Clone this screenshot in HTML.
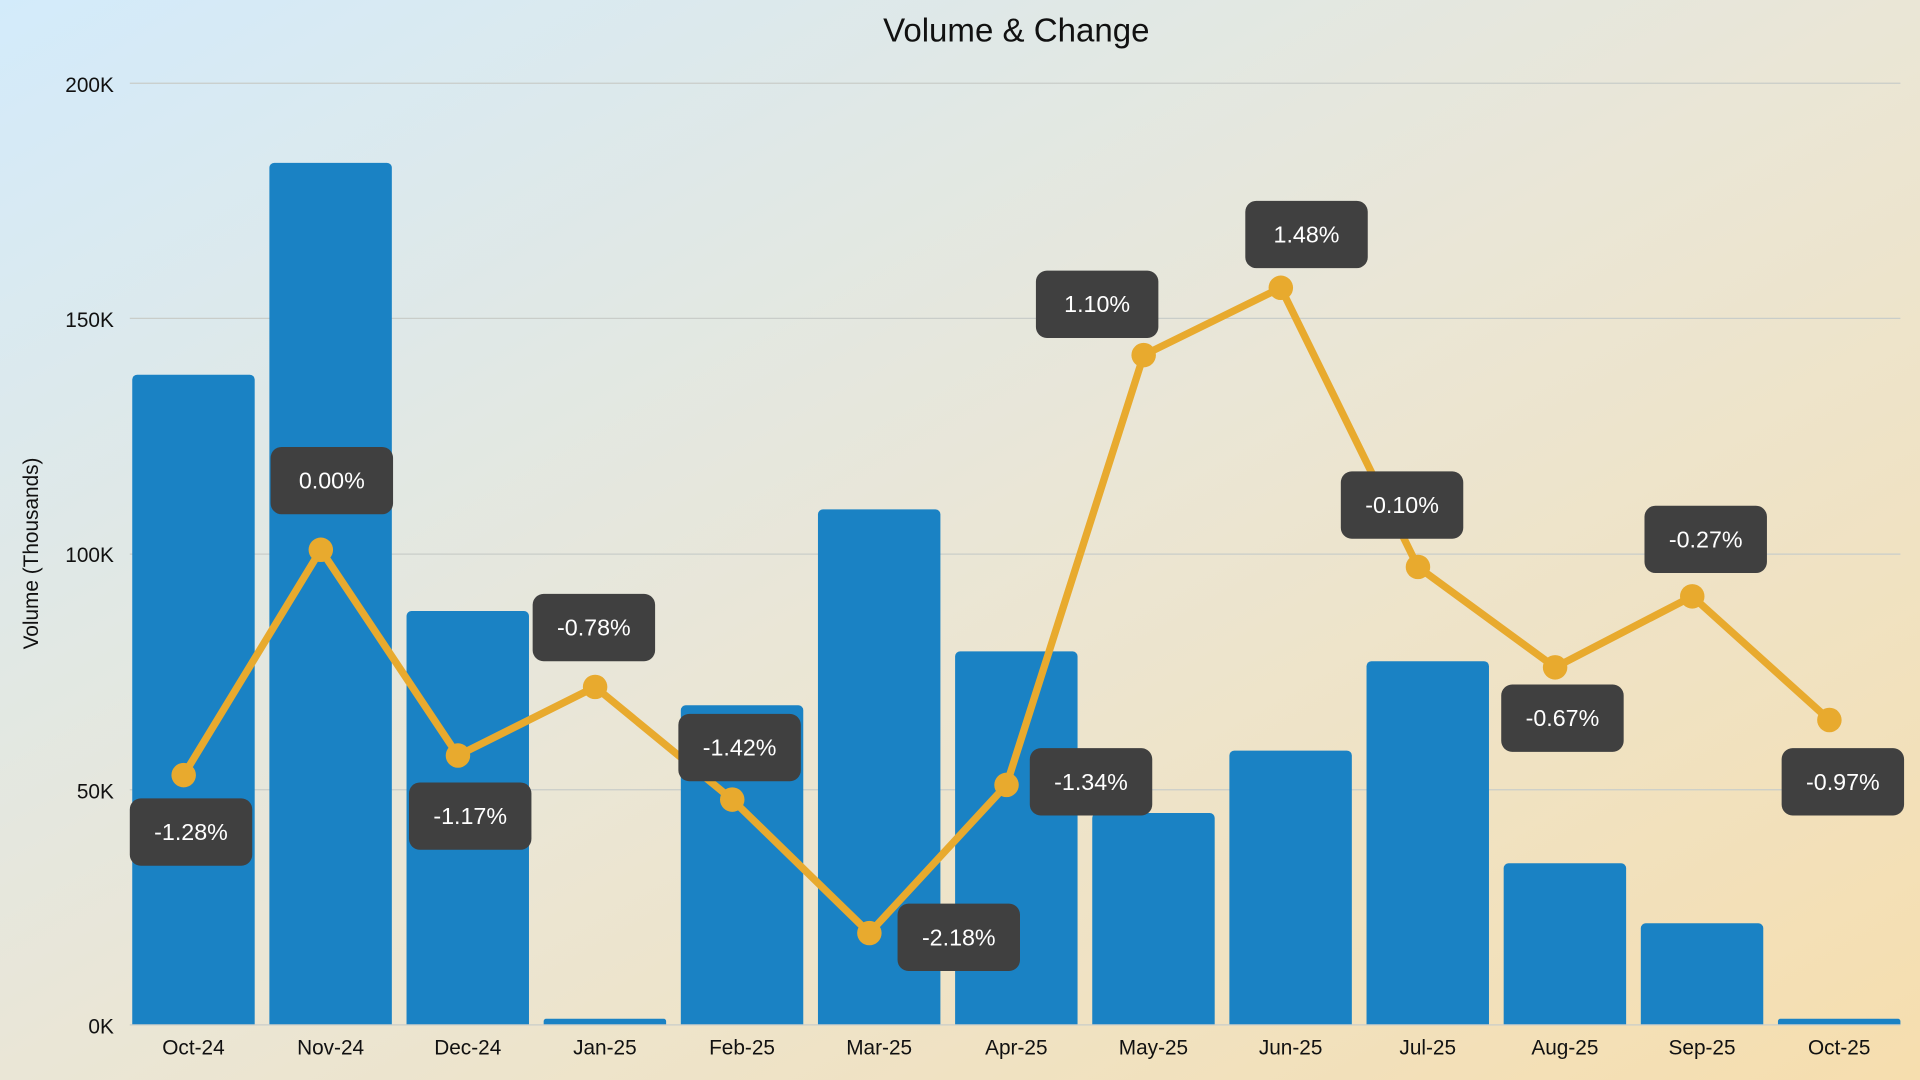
<!DOCTYPE html>
<html><head><meta charset="utf-8"><style>
html,body{margin:0;padding:0;width:1920px;height:1080px;overflow:hidden}
svg{display:block}
text{font-family:"Liberation Sans",sans-serif}
</style></head><body>
<svg width="1920" height="1080" viewBox="0 0 1568 882" preserveAspectRatio="none">
<defs><linearGradient id="bg" x1="0" y1="0" x2="1" y2="1">
<stop offset="0" stop-color="#d3ebfb"/><stop offset="0.5" stop-color="#eae6d6"/><stop offset="1" stop-color="#f6deae"/></linearGradient></defs>
<rect width="1568" height="882" fill="url(#bg)"/>
<text x="830" y="34" text-anchor="middle" font-size="27" fill="#111">Volume &amp; Change</text>
<g stroke="#c9cdc9" stroke-width="1">
<line x1="106" x2="1552" y1="68" y2="68"/><line x1="106" x2="1552" y1="260" y2="260"/>
<line x1="106" x2="1552" y1="452.5" y2="452.5"/><line x1="106" x2="1552" y1="645" y2="645"/>
</g>
<g font-size="17" fill="#111" text-anchor="end">
<text x="93" y="75">200K</text><text x="93" y="267">150K</text><text x="93" y="459">100K</text><text x="93" y="652">50K</text><text x="93" y="844">0K</text>
</g>
<text transform="translate(31,452) rotate(-90)" text-anchor="middle" font-size="17" fill="#111">Volume (Thousands)</text>
<g fill="#1a82c4">
<path d="M108 837V310a4 4 0 0 1 4-4h92a4 4 0 0 1 4 4V837z"/>
<path d="M220 837V137a4 4 0 0 1 4-4h92a4 4 0 0 1 4 4V837z"/>
<path d="M332 837V503a4 4 0 0 1 4-4h92a4 4 0 0 1 4 4V837z"/>
<path d="M444 837V834a2 2 0 0 1 2-2h96a2 2 0 0 1 2 2V837z"/>
<path d="M556 837V580a4 4 0 0 1 4-4h92a4 4 0 0 1 4 4V837z"/>
<path d="M668 837V420a4 4 0 0 1 4-4h92a4 4 0 0 1 4 4V837z"/>
<path d="M780 837V536a4 4 0 0 1 4-4h92a4 4 0 0 1 4 4V837z"/>
<path d="M892 837V668a4 4 0 0 1 4-4h92a4 4 0 0 1 4 4V837z"/>
<path d="M1004 837V617a4 4 0 0 1 4-4h92a4 4 0 0 1 4 4V837z"/>
<path d="M1116 837V544a4 4 0 0 1 4-4h92a4 4 0 0 1 4 4V837z"/>
<path d="M1228 837V709a4 4 0 0 1 4-4h92a4 4 0 0 1 4 4V837z"/>
<path d="M1340 837V758a4 4 0 0 1 4-4h92a4 4 0 0 1 4 4V837z"/>
<path d="M1452 837V834a2 2 0 0 1 2-2h96a2 2 0 0 1 2 2V837z"/>
</g>
<line x1="106" x2="1552" y1="837" y2="837" stroke="#c9cdc9"/>
<g font-size="17" fill="#111" text-anchor="middle">
<text x="158" y="861">Oct-24</text><text x="270" y="861">Nov-24</text><text x="382" y="861">Dec-24</text><text x="494" y="861">Jan-25</text><text x="606" y="861">Feb-25</text><text x="718" y="861">Mar-25</text><text x="830" y="861">Apr-25</text><text x="942" y="861">May-25</text><text x="1054" y="861">Jun-25</text><text x="1166" y="861">Jul-25</text><text x="1278" y="861">Aug-25</text><text x="1390" y="861">Sep-25</text><text x="1502" y="861">Oct-25</text>
</g>
<polyline fill="none" stroke="#e8aa2e" stroke-width="6" stroke-linejoin="round" points="150,633 262,449 374,617 486,561 598,653 710,762 822,641 934,290 1046,235 1158,463 1270,545 1382,487 1494,588"/>
<g fill="#e8aa2e">
<circle cx="150" cy="633" r="10"/><circle cx="262" cy="449" r="10"/><circle cx="374" cy="617" r="10"/><circle cx="486" cy="561" r="10"/><circle cx="598" cy="653" r="10"/><circle cx="710" cy="762" r="10"/><circle cx="822" cy="641" r="10"/><circle cx="934" cy="290" r="10"/><circle cx="1046" cy="235" r="10"/><circle cx="1158" cy="463" r="10"/><circle cx="1270" cy="545" r="10"/><circle cx="1382" cy="487" r="10"/><circle cx="1494" cy="588" r="10"/>
</g>
<g fill="#404040">
<rect x="106" y="652" width="100" height="55" rx="9"/>
<rect x="221" y="365" width="100" height="55" rx="9"/>
<rect x="334" y="639" width="100" height="55" rx="9"/>
<rect x="435" y="485" width="100" height="55" rx="9"/>
<rect x="554" y="583" width="100" height="55" rx="9"/>
<rect x="733" y="738" width="100" height="55" rx="9"/>
<rect x="841" y="611" width="100" height="55" rx="9"/>
<rect x="846" y="221" width="100" height="55" rx="9"/>
<rect x="1017" y="164" width="100" height="55" rx="9"/>
<rect x="1095" y="385" width="100" height="55" rx="9"/>
<rect x="1226" y="559" width="100" height="55" rx="9"/>
<rect x="1343" y="413" width="100" height="55" rx="9"/>
<rect x="1455" y="611" width="100" height="55" rx="9"/>
</g>
<g font-size="19" fill="#fff" text-anchor="middle">
<text x="156" y="686">-1.28%</text>
<text x="271" y="399">0.00%</text>
<text x="384" y="673">-1.17%</text>
<text x="485" y="519">-0.78%</text>
<text x="604" y="617">-1.42%</text>
<text x="783" y="772">-2.18%</text>
<text x="891" y="645">-1.34%</text>
<text x="896" y="255">1.10%</text>
<text x="1067" y="198">1.48%</text>
<text x="1145" y="419">-0.10%</text>
<text x="1276" y="593">-0.67%</text>
<text x="1393" y="447">-0.27%</text>
<text x="1505" y="645">-0.97%</text>
</g>
</svg>
</body></html>
